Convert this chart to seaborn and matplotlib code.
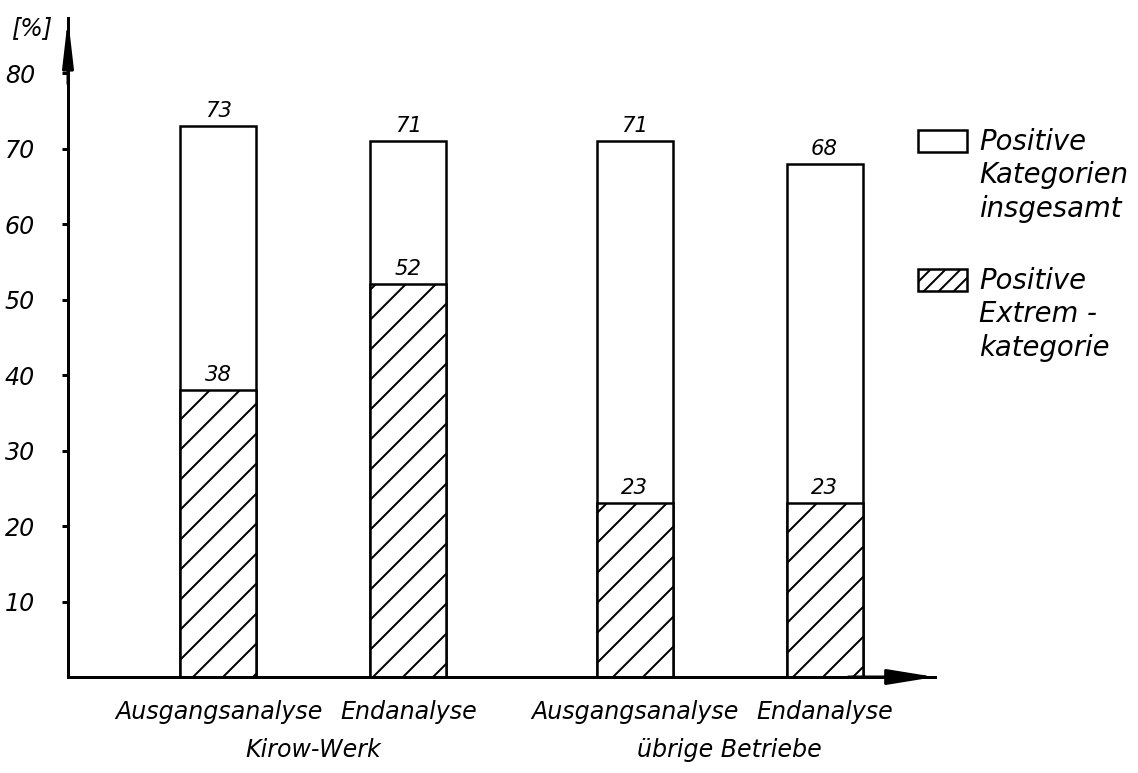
import matplotlib
matplotlib.use("Agg")
import matplotlib.pyplot as plt
import matplotlib.patches as mpatches
from matplotlib.legend_handler import HandlerPatch
import seaborn as sns
import pandas as pd

# ---- data ----
categories = ["Ausgangsanalyse", "Endanalyse", "Ausgangsanalyse", "Endanalyse"]
groups = ["Kirow-Werk", "Kirow-Werk", "übrige Betriebe", "übrige Betriebe"]
positive_total = [73, 71, 71, 68]
positive_extreme = [38, 52, 23, 23]
y_ticks = [10, 20, 30, 40, 50, 60, 70, 80]
legend_labels = ["Positive\nKategorien\ninsgesamt", "Positive\nExtrem -\nkategorie"]
y_unit = "[%]"

# ---- layout ----
bar_pos = [0.0, 1.0, 2.19, 3.19]
DPI = 180
W, H = 1138, 773

sns.set_theme(style="white")
plt.rcParams["font.family"] = ["DejaVu Sans"]
plt.rcParams["text.color"] = "black"
plt.rcParams["hatch.linewidth"] = 0.8
plt.rcParams["hatch.color"] = "black"

fig = plt.figure(figsize=(W / DPI, H / DPI), dpi=DPI)
fig.patch.set_facecolor("white")
ax = fig.add_axes([68 / W, 1 - 677 / H, (935 - 68) / W, (677 - 18) / H])
ax.set_facecolor("white")

df = pd.DataFrame({"pos": bar_pos, "total": positive_total, "extreme": positive_extreme})

sns.barplot(data=df, x="pos", y="total", native_scale=True, width=0.4,
            color="white", edgecolor="black", linewidth=1.0, saturation=1,
            errorbar=None, ax=ax)
sns.barplot(data=df, x="pos", y="extreme", native_scale=True, width=0.4,
            color="white", edgecolor="black", linewidth=1.0, saturation=1,
            errorbar=None, hatch="//", ax=ax)

for cont in ax.containers:
    ax.bar_label(cont, padding=2, fontsize=8.5, fontstyle="italic", color="black")

ax.set_xlim(-0.792, 3.771)
ax.set_ylim(0, 87.3)
ax.set_xlabel("")
ax.set_ylabel("")

ax.set_yticks(y_ticks)
ax.tick_params(axis="y", direction="out", length=2.4, width=1.2, pad=10.8,
               labelsize=9.5, left=True, color="black", labelcolor="black")
ax.set_xticks(bar_pos, categories)
ax.tick_params(axis="x", length=0, pad=9, labelsize=9.5, labelcolor="black")
for lbl in ax.get_xticklabels() + ax.get_yticklabels():
    lbl.set_fontstyle("italic")

# group labels under pairs of bars
for g in dict.fromkeys(groups):
    xs = [p for p, gg in zip(bar_pos, groups) if gg == g]
    ax.text(sum(xs) / len(xs), -0.111, g, transform=ax.get_xaxis_transform(),
            ha="center", va="center", fontsize=9.5, fontstyle="italic", color="black")

for s in ["top", "right"]:
    ax.spines[s].set_visible(False)
for s in ["left", "bottom"]:
    ax.spines[s].set_color("black")
    ax.spines[s].set_linewidth(1.2)

# axis arrows
ax.annotate("", xy=(0, 1), xycoords="axes fraction", xytext=(0, 0.9),
            arrowprops=dict(arrowstyle="-|>,head_length=15.6,head_width=1.8",
                            mutation_scale=1, color="black", lw=1.2,
                            shrinkA=0, shrinkB=0))
ax.annotate("", xy=(1, 0), xycoords="axes fraction", xytext=(0.9, 0),
            arrowprops=dict(arrowstyle="-|>,head_length=16,head_width=2.6",
                            mutation_scale=1, color="black", lw=1.2,
                            shrinkA=0, shrinkB=0))

fig.text(32 / W, 1 - 28 / H, y_unit, ha="center", va="center",
         fontsize=9.5, fontstyle="italic", color="black")

# legend (handle aligned with first text line)
LINE_SHIFT = 14.2


def top_patch(legend, orig_handle, xdescent, ydescent, width, height, fontsize):
    return mpatches.Rectangle((-xdescent, -ydescent + LINE_SHIFT), width, height)


handles = [
    mpatches.Patch(facecolor="white", edgecolor="black", linewidth=1.0),
    mpatches.Patch(facecolor="white", edgecolor="black", linewidth=1.0, hatch="////"),
]
leg = fig.legend(handles=handles, labels=legend_labels, loc="upper left",
                 bbox_to_anchor=(918 / W, 1 - 128 / H), frameon=False,
                 prop={"size": 11, "style": "italic"},
                 handlelength=1.78, handleheight=0.84, handletextpad=0.45,
                 labelspacing=1.62, borderpad=0, borderaxespad=0,
                 handler_map={mpatches.Patch: HandlerPatch(patch_func=top_patch)})
for t in leg.get_texts():
    t.set_linespacing(1.24)
    t.set_color("black")

fig.savefig("out.png", dpi=DPI, facecolor="white")
